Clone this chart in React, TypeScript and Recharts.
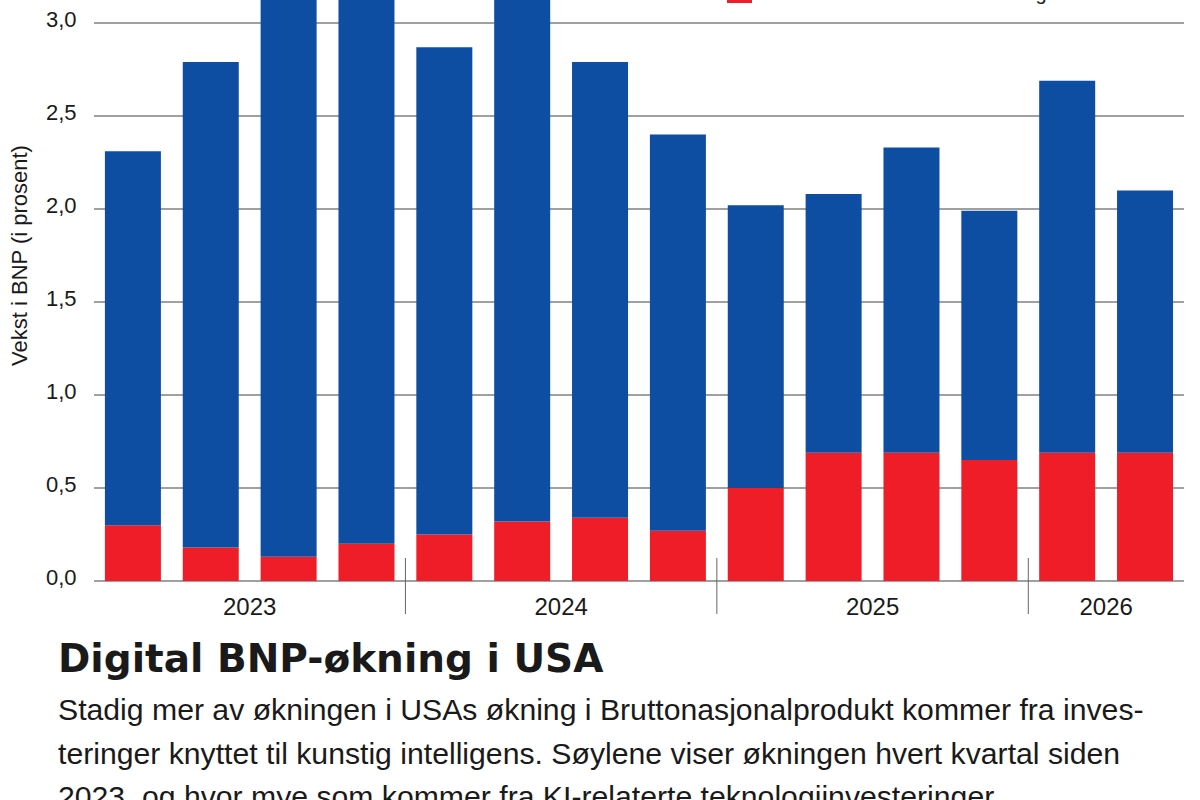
import React from "react";
import {
  BarChart,
  Bar,
  XAxis,
  YAxis,
  CartesianGrid,
  Legend,
} from "recharts";

// kvartal for kvartal, 2023 K1 – 2026 K2
const aar = [
  "2023", "2023", "2023", "2023",
  "2024", "2024", "2024", "2024",
  "2025", "2025", "2025", "2025",
  "2026", "2026",
];
const kvartal = [
  "K1", "K2", "K3", "K4",
  "K1", "K2", "K3", "K4",
  "K1", "K2", "K3", "K4",
  "K1", "K2",
];
// bidrag fra KI-relaterte investeringer (rød)
const kiVekst = [0.3, 0.18, 0.13, 0.2, 0.25, 0.32, 0.34, 0.27, 0.5, 0.69, 0.69, 0.65, 0.69, 0.69];
// resten av veksten (blå)
const annenVekst = [2.01, 2.61, 3.17, 3.2, 2.62, 2.93, 2.45, 2.13, 1.52, 1.39, 1.64, 1.34, 2.0, 1.41];
const yTicks = [0, 0.5, 1, 1.5, 2, 2.5, 3, 3.5];

const data = kvartal.map((k, i) => ({
  kvartal: `${aar[i]} ${k}`,
  ki: kiVekst[i],
  annen: annenVekst[i],
}));

const BLUE = "#0e4ea2";
const RED = "#ee1d27";
const GRID = "#808080";
const TEXT = "#1a1a1a";

const PLOT_LEFT = 94;
const PLOT_RIGHT = 1184;
const band = (PLOT_RIGHT - PLOT_LEFT) / data.length;

const fmt = (v: number) => v.toFixed(1).replace(".", ",");

function YTick(props: any) {
  const { x, y, payload } = props;
  return (
    <text x={x - 17.5} y={y + 4} textAnchor="end" fontSize={22} fill={TEXT}>
      {fmt(payload.value)}
    </text>
  );
}

function YearTick(props: any) {
  const { x, y } = props;
  const i = props.index ?? props.payload?.index ?? 0;
  const first = i === 0 || aar[i] !== aar[i - 1];
  if (!first) return <g />;
  let n = 0;
  while (i + n < aar.length && aar[i + n] === aar[i]) n++;
  const cx = x + ((n - 1) / 2) * band;
  return (
    <g>
      {i > 0 && (
        <line
          x1={x - band / 2}
          x2={x - band / 2}
          y1={y - 23}
          y2={y + 33}
          stroke="#666"
          strokeWidth={1}
        />
      )}
      <text x={cx} y={y + 34} textAnchor="middle" fontSize={24} fill={TEXT}>
        {aar[i]}
      </text>
    </g>
  );
}

function renderLegend(props: any) {
  const items = props.payload || [];
  return (
    <div>
      {items.map((it: any) => (
        <div
          key={it.value}
          style={{ display: "flex", alignItems: "center", height: 30 }}
        >
          <span
            style={{
              display: "inline-block",
              width: 25,
              height: 20,
              background: it.color,
              marginRight: 10,
            }}
          />
          <span style={{ fontSize: 20, lineHeight: "24px", color: TEXT }}>
            {it.value}
          </span>
        </div>
      ))}
    </div>
  );
}

export default function App() {
  return (
    <div
      style={{
        position: "absolute",
        top: 0,
        left: 0,
        width: 1200,
        height: 800,
        overflow: "hidden",
        background: "#fff",
        fontFamily: "'Liberation Sans', Arial, sans-serif",
        color: TEXT,
      }}
    >
      <div style={{ position: "absolute", top: -130, left: 0 }}>
        <BarChart
          width={1200}
          height={770}
          data={data}
          margin={{ top: 60, right: 16, bottom: 0, left: 0 }}
          barCategoryGap="14%"
          style={{ fontFamily: "'Liberation Sans', Arial, sans-serif" }}
        >
          <CartesianGrid vertical={false} stroke={GRID} strokeWidth={1.5} />
          <XAxis
            dataKey="kvartal"
            axisLine={false}
            tickLine={false}
            tickSize={0}
            tickMargin={0}
            interval={0}
            height={59}
            tick={<YearTick />}
          />
          <YAxis
            domain={[0, 3.5]}
            ticks={yTicks}
            width={94}
            axisLine={false}
            tickLine={false}
            tickSize={0}
            tickMargin={0}
            tick={<YTick />}
            label={{
              value: "Vekst i BNP (i prosent)",
              angle: -90,
              position: "insideLeft",
              offset: 19,
              fontSize: 22,
              fill: TEXT,
              style: { textAnchor: "middle" },
            }}
          />
          <Legend
            layout="vertical"
            align="center"
            verticalAlign="middle"
            content={renderLegend}
            wrapperStyle={{ top: 78, left: 727, width: 460 }}
          />
          <Bar
            dataKey="ki"
            name="Vekst fra KI-relaterte investeringer"
            stackId="a"
            fill={RED}
            isAnimationActive={false}
          />
          <Bar
            dataKey="annen"
            name="Annen vekst"
            stackId="a"
            fill={BLUE}
            isAnimationActive={false}
          />
        </BarChart>
      </div>
      <div
        style={{
          position: "absolute",
          top: 639,
          left: 58,
          fontFamily: "'DejaVu Sans', sans-serif",
          fontWeight: 700,
          fontSize: 39,
          lineHeight: "39px",
          whiteSpace: "nowrap",
        }}
      >
        Digital BNP-økning i USA
      </div>
      <div
        style={{
          position: "absolute",
          top: 688,
          left: 58,
          fontSize: 30.2,
          lineHeight: "43.5px",
          whiteSpace: "nowrap",
        }}
      >
        Stadig mer av økningen i USAs økning i Bruttonasjonalprodukt kommer fra inves-
        <br />
        teringer knyttet til kunstig intelligens. Søylene viser økningen hvert kvartal siden
        <br />
        2023, og hvor mye som kommer fra KI-relaterte teknologiinvesteringer.
      </div>
    </div>
  );
}
